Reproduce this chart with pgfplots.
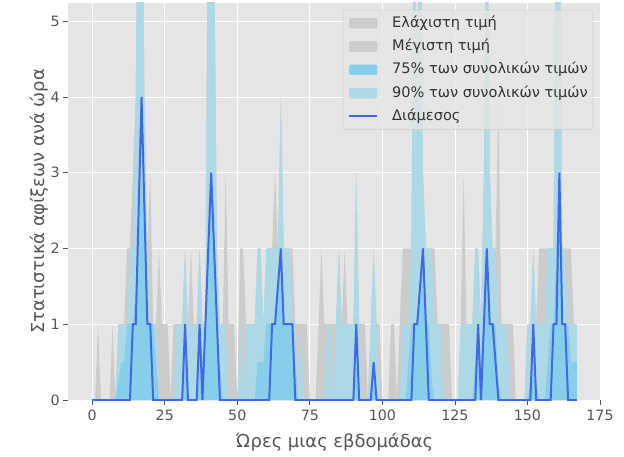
\documentclass[border=0pt]{standalone}
\usepackage{fontspec}
\setmainfont{DejaVu Sans}
\usepackage{pgfplots}
\pgfplotsset{compat=1.18}
\usepackage{pgfplotstable}
\definecolor{bgc}{HTML}{E5E5E5}
\definecolor{txt}{HTML}{555555}
\definecolor{maxc}{HTML}{CCCCCC}
\definecolor{lb}{HTML}{ADD8E6}
\definecolor{sb}{HTML}{87CEEB}
\definecolor{rb}{HTML}{4169E1}
\definecolor{legedge}{HTML}{CCCCCC}
\definecolor{legtxt}{HTML}{333333}

\pgfplotstableread{
h mn mx p90 p75 med
0 0 0 0 0 0
1 0 0 0 0 0
2 0 1 0 0 0
3 0 0 0 0 0
4 0 0 0 0 0
5 0 0 0 0 0
6 0 0 0 0 0
7 0 1 0 0 0
8 0 0 0 0 0
9 0 1 1 0.25 0
10 0 1 1 0.5 0
11 0 1 1 0.5 0
12 0 2 1 1 0
13 0 2 2 1 0
14 0 3 2 1 1
15 0 4 4 1.5 1
16 0 8 8 2 2.5
17 0 8 8 3 4
18 0 4 4 2 2.5
19 0 2 2 1 1
20 0 3 1 1 1
21 0 1 1 1 0
22 0 1 1 0.5 0
23 0 2 0 0 0
24 0 1 0 0 0
25 0 1 0 0 0
26 0 1 0 0 0
27 0 0 0 0 0
28 0 1 0 0 0
29 0 1 1 0 0
30 0 1 1 0 0
31 0 1 1 0 0
32 0 2 2 1 1
33 0 1 1 0 0
34 0 2 1 0 0
35 0 1 1 0 0
36 0 1 1 0 0
37 0 2 2 1 1
38 0 1 1 0.5 0
39 0 1 1 1 1
40 0 8 8 2 2
41 0 8 8 3 3
42 0 6 6 2 2
43 0 2 2 1 1
44 0 1 1 0.5 0
45 0 1 1 0 0
46 0 3 1 0 0
47 0 1 0 0 0
48 0 1 0 0 0
49 0 1 0 0 0
50 0 0 0 0 0
51 0 2 1 0 0
52 0 2 0 0 0
53 0 1 1 0 0
54 0 1 1 0 0
55 0 1 1 0 0
56 0 1 1 0 0
57 0 2 2 0.5 0
58 0 2 2 0.5 0
59 0 1 1 0.5 0
60 0 2 2 1 0
61 0 2 2 1 0
62 0 2 2 1 1
63 0 3 2 1 1
64 0 2 2 1.5 1.5
65 0 4 4 2 2
66 0 2 2 1 1
67 0 2 2 1 1
68 0 2 2 1 1
69 0 2 1 1 1
70 0 1 1 0.5 0
71 0 1 0 0 0
72 0 1 1 0 0
73 0 1 0 0 0
74 0 1 0 0 0
75 0 0 0 0 0
76 0 0 0 0 0
77 0 0 0 0 0
78 0 1 0 0 0
79 0 2 0 0 0
80 0 1 0 0 0
81 0 1 1 0 0
82 0 1 1 0 0
83 0 1 0 0 0
84 0 1 1 0 0
85 0 2 2 0 0
86 0 1 1 0 0
87 0 2 1 0 0
88 0 1 1 0 0
89 0 1 1 0 0
90 0 1 1 0 0
91 0 3 3 1 1
92 0 1 1 0 0
93 0 1 0 0 0
94 0 1 0 0 0
95 0 0 0 0 0
96 0 1 1 0 0
97 0 2 2 0.5 0.5
98 0 1 1 0 0
99 0 1 0 0 0
100 0 0 0 0 0
101 0 0 0 0 0
102 0 0 0 0 0
103 0 1 0 0 0
104 0 1 0 0 0
105 0 0 0 0 0
106 0 1 0 0 0
107 0 2 1 0 0
108 0 2 1 0 0
109 0 2 1 0.5 0
110 0 2 2 1 0
111 0 8 8 1 1
112 0 4 3 1 1
113 0 8 8 1.5 1.5
114 0 3 3 2 2
115 0 2 2 1 1
116 0 2 2 1 0
117 0 2 2 0.25 0
118 0 2 1 0 0
119 0 1 1 0 0
120 0 1 1 0 0
121 0 1 0 0 0
122 0 1 0 0 0
123 0 1 0 0 0
124 0 0 0 0 0
125 0 0 0 0 0
126 0 0 0 0 0
127 0 1 1 0 0
128 0 3 1 0 0
129 0 1 1 0 0
130 0 1 1 0 0
131 0 1 1 0 0
132 0 2 2 0.5 0
133 0 2 2 1 1
134 0 1 1 0.5 0
135 0 3 3 1 1
136 0 8 8 2 2
137 0 3 3 1 1
138 0 2 2 1 1
139 0 2 2 1 0.5
140 0 4 1 0.25 0
141 0 1 1 0 0
142 0 1 1 0 0
143 0 1 1 0 0
144 0 1 0 0 0
145 0 1 0 0 0
146 0 0 0 0 0
147 0 0 0 0 0
148 0 0 0 0 0
149 0 0 0 0 0
150 0 1 1 0 0
151 0 1 1 0.25 0
152 0 2 2 1 1
153 0 1 1 0.25 0
154 0 2 1 0 0
155 0 2 1 0 0
156 0 2 1 0 0
157 0 2 2 0.5 0
158 0 2 2 1 0
159 0 2 2 1 1
160 0 8 8 2 1
161 0 8 8 3 3
162 0 2 2 1 1
163 0 2 2 1 1
164 0 2 1 1 0
165 0 2 1 0.5 0
166 0 1 1 0.5 0
167 0 1 1 0.5 0
}\data

\begin{document}
\begin{tikzpicture}
\path[use as bounding box] (-68bp,-57bp) rectangle (556bp,400bp);
\begin{axis}[
  scale only axis, width=533bp, height=397bp,
  at={(0,0)}, anchor=south west,
  xmin=-8.35, xmax=175.35, ymin=0, ymax=5.24,
  xtick={0,25,...,175}, ytick={0,1,2,3,4,5},
  axis background/.style={fill=bgc},
  axis line style={draw=none},
  grid=major, major grid style={white, line width=0.8bp},
  tick align=outside, major tick length=4.9bp,
  tick style={txt, line width=0.8bp},
  xtick pos=left, ytick pos=left,
  ticklabel style={font=\fontsize{14.3}{16}\selectfont, text=txt},
  xticklabel style={yshift=-2bp},
  /pgf/number format/assume math mode=true,
  xlabel={Ώρες μιας εβδομάδας},
  ylabel={Στατιστικά αφίξεων ανά ώρα},
  label style={font=\fontsize{18}{21}\selectfont, text=txt},
  xlabel style={at={(axis description cs:0.5,-0.106)}, anchor=center},
  ylabel style={at={(axis description cs:-0.054,0.5)}, anchor=center},
  legend cell align=left,
  legend style={at={(1,1)}, anchor=north east, xshift=-8bp, yshift=-7bp,
    fill=bgc, fill opacity=0.8, draw opacity=1, text opacity=1,
    draw=legedge, rounded corners=2bp,
    font=\fontsize{14.6}{17}\selectfont, text=legtxt,
    inner xsep=5bp, inner ysep=6bp, row sep=9.3bp, column sep=14bp,
    nodes={inner sep=0pt, text height=11bp, text depth=3bp}},
]
\addplot[fill=maxc, draw=none, forget plot] table[x=h,y=mn]{\data} \closedcycle;
\addplot[fill=maxc, draw=none, forget plot] table[x=h,y=mx]{\data} \closedcycle;
\addplot[fill=lb, draw=none, forget plot] table[x=h,y=p90]{\data} \closedcycle;
\addplot[fill=sb, draw=none, forget plot] table[x=h,y=p75]{\data} \closedcycle;
\addplot[rb, line width=2bp, forget plot] table[x=h,y=med]{\data};

\addlegendimage{legend image code/.code={\fill[maxc, fill opacity=1] (0bp,-5bp) rectangle (28bp,5bp);}}
\addlegendentry{Ελάχιστη τιμή}
\addlegendimage{legend image code/.code={\fill[maxc, fill opacity=1] (0bp,-5bp) rectangle (28bp,5bp);}}
\addlegendentry{Μέγιστη τιμή}
\addlegendimage{legend image code/.code={\fill[sb, fill opacity=1] (0bp,-5bp) rectangle (28bp,5bp);}}
\addlegendentry{75\% των συνολικών τιμών}
\addlegendimage{legend image code/.code={\fill[lb, fill opacity=1] (0bp,-5bp) rectangle (28bp,5bp);}}
\addlegendentry{90\% των συνολικών τιμών}
\addlegendimage{legend image code/.code={\draw[rb, line width=2bp, opacity=1] (0bp,0bp) -- (28bp,0bp);}}
\addlegendentry{Διάμεσος}
\end{axis}
\end{tikzpicture}
\end{document}
